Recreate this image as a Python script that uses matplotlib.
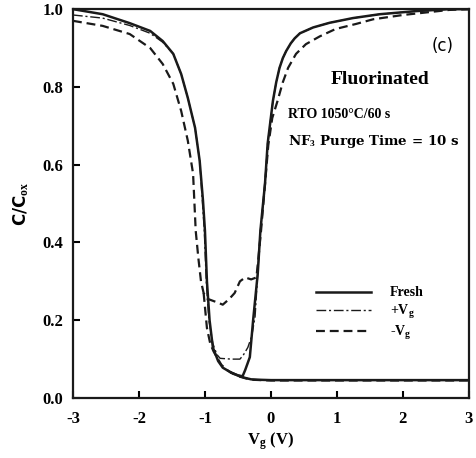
import numpy as np
import matplotlib
matplotlib.use('Agg')
import matplotlib.pyplot as plt

# Данные
# Fresh (сплошная) - квазистатическая кривая
fresh_x = [-3.0, -2.55, -2.14, -1.83, -1.64, -1.48, -1.36, -1.26, -1.15, -1.08, -1.03,
           -1.0, -0.97, -0.93, -0.88, -0.8, -0.73, -0.6, -0.5, -0.43, -0.39, -0.32,
           -0.27, -0.2, -0.16, -0.09, -0.05, 0.03, 0.08, 0.13, 0.18, 0.23, 0.3, 0.36,
           0.44, 0.64, 0.89, 1.24, 1.65, 2.2, 2.7, 3.0]
fresh_y = [1.0, 0.987, 0.964, 0.944, 0.918, 0.885, 0.833, 0.772, 0.695, 0.61, 0.508,
           0.43, 0.3, 0.2, 0.13, 0.095, 0.078, 0.065, 0.058, 0.056, 0.072, 0.105,
           0.2, 0.32, 0.43, 0.551, 0.654, 0.764, 0.812, 0.849, 0.874, 0.892, 0.912, 0.925,
           0.938, 0.953, 0.965, 0.977, 0.987, 0.995, 1.0, 1.0]
# Fresh - высокочастотный хвост
fresh_hf_x = [-0.6, -0.5, -0.4, -0.3, -0.2, 0.0, 1.0, 2.0, 3.0]
fresh_hf_y = [0.065, 0.058, 0.052, 0.048, 0.047, 0.046, 0.046, 0.046, 0.046]

# +Vg (штрих-пунктир)
pos_x = [-3.0, -2.55, -2.14, -1.83, -1.64, -1.48, -1.36, -1.26, -1.15, -1.08, -1.04,
         -1.01, -0.98, -0.94, -0.88, -0.82, -0.77, -0.6, -0.47, -0.42, -0.35, -0.29,
         -0.24, -0.2, -0.16, -0.09, -0.05, 0.03, 0.08, 0.13, 0.18, 0.23, 0.3, 0.36,
         0.44, 0.64, 0.89, 1.24, 1.65, 2.2, 2.7, 3.0]
pos_y = [0.985, 0.977, 0.958, 0.938, 0.915, 0.885, 0.833, 0.772, 0.695, 0.61, 0.508,
         0.43, 0.3, 0.2, 0.14, 0.112, 0.102, 0.1, 0.1, 0.11, 0.13, 0.16,
         0.21, 0.32, 0.43, 0.551, 0.654, 0.764, 0.812, 0.849, 0.874, 0.892, 0.912, 0.925,
         0.938, 0.953, 0.965, 0.977, 0.987, 0.995, 1.0, 1.0]

# -Vg (штрихи)
neg_x = [-3.0, -2.55, -2.14, -1.83, -1.64, -1.48, -1.36, -1.26, -1.18, -1.14, -1.1,
         -1.06, -1.02, -0.96, -0.88, -0.8, -0.73, -0.63, -0.55, -0.47, -0.39, -0.3,
         -0.22, -0.19, -0.15, -0.09, -0.04, 0.02, 0.1, 0.18, 0.26, 0.38, 0.53, 0.74,
         0.98, 1.29, 1.55, 2.0, 2.7, 3.0]
neg_y = [0.97, 0.957, 0.936, 0.9, 0.859, 0.808, 0.738, 0.662, 0.577, 0.43, 0.36,
         0.3, 0.27, 0.255, 0.25, 0.245, 0.24, 0.255, 0.27, 0.3, 0.31, 0.305,
         0.31, 0.36, 0.43, 0.55, 0.65, 0.72, 0.764, 0.812, 0.849, 0.885, 0.91, 0.93,
         0.949, 0.962, 0.974, 0.985, 0.998, 1.0]
neg_hf_x = [-1.02, -0.97, -0.92, -0.87, -0.82, -0.75, -0.65, -0.5, -0.3, 0.0, 1.0, 2.0, 3.0]
neg_hf_y = [0.27, 0.18, 0.14, 0.12, 0.105, 0.085, 0.07, 0.056, 0.047, 0.045, 0.045, 0.045, 0.045]

xticks = [-3, -2, -1, 0, 1, 2, 3]
yticks = [0.0, 0.2, 0.4, 0.6, 0.8, 1.0]

plt.rcParams['font.family'] = ['Liberation Serif', 'DejaVu Serif']
plt.rcParams['mathtext.fontset'] = 'custom'
plt.rcParams['mathtext.rm'] = 'Liberation Serif:bold'
plt.rcParams['mathtext.it'] = 'Liberation Serif:bold'
plt.rcParams['mathtext.bf'] = 'Liberation Serif:bold'

fig = plt.figure(figsize=(4.77, 4.58), dpi=100)
ax = fig.add_axes([0.153, 0.131, 0.830, 0.849])

dashdot = (0, (7, 2, 1.5, 2))
dashed = (0, (4, 2.2))
ink = '#1a1a1a'

ax.plot(fresh_x, fresh_y, color=ink, lw=1.8, label='Fresh')
ax.plot(fresh_hf_x, fresh_hf_y, color=ink, lw=1.8)
ax.plot(pos_x, pos_y, color=ink, lw=1.0, linestyle=dashdot, label='+V$_g$')
ax.plot(neg_x, neg_y, color=ink, lw=1.6, linestyle=dashed, label='-V$_g$')
ax.plot(neg_hf_x, neg_hf_y, color=ink, lw=1.6, linestyle=dashed)

ax.set_xlim(-3, 3)
ax.set_ylim(0, 1.0)
ax.set_xticks(xticks)
ax.set_xticklabels(['-3', '-2', '-1', '0', '1', '2', '3'])
ax.set_yticks(yticks)
ax.set_yticklabels(['0.0', '0.2', '0.4', '0.6', '0.8', '1.0'])
ax.tick_params(direction='in', length=5, width=1.5, labelsize=12, pad=7)
ax.tick_params(axis='x', pad=9)
for lbl in ax.get_xticklabels() + ax.get_yticklabels():
    lbl.set_fontweight('bold')
for s in ax.spines.values():
    s.set_linewidth(1.6)
    s.set_color(ink)

ax.set_xlabel('V$_g$ (V)', fontsize=12, fontweight='bold', labelpad=3)
ax.set_ylabel('C/C$_{ox}$', fontsize=12, fontweight='bold', labelpad=8,
              family=['DejaVu Sans'])

ax.text(2.6, 0.905, '(c)', fontsize=12, family=['DejaVu Sans'], ha='center', va='center')
ax.text(1.65, 0.82, 'Fluorinated', fontsize=14, fontweight='bold', ha='center', va='center')
ax.text(0.26, 0.73, 'RTO 1050°C/60 s', fontsize=10, fontweight='bold', ha='left', va='center')
ax.text(0.26, 0.66, 'NF$_3$ Purge Time = 10 s', fontsize=9.6, fontweight='bold',
        ha='left', va='center', family=['DejaVu Serif'])

leg = ax.legend(loc='center left', bbox_to_anchor=(0.582, 0.215), frameon=False,
                handlelength=4.0, fontsize=10, labelspacing=0.25, handletextpad=1.3)
for t in leg.get_texts():
    t.set_fontweight('bold')

fig.savefig('out.png', dpi=100)
